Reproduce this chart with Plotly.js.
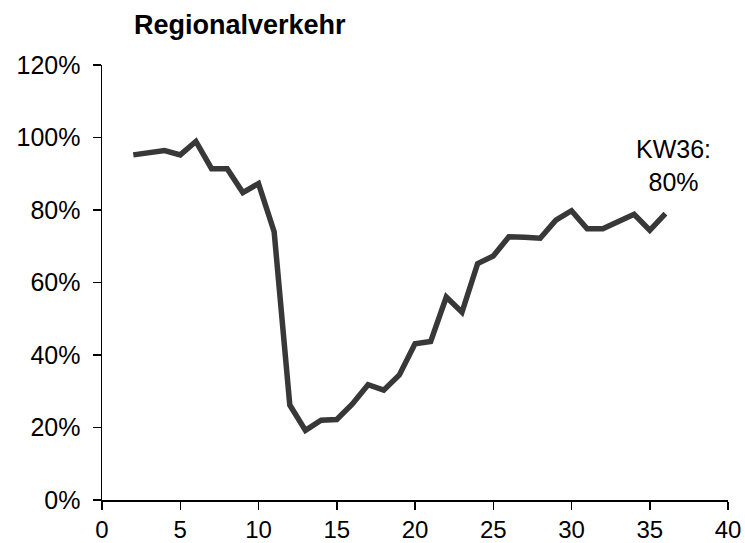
<!DOCTYPE html>
<html>
<head>
<meta charset="utf-8">
<script src="https://cdn.plot.ly/plotly-3.0.1.min.js"></script>
<style>html,body{margin:0;padding:0;background:#fff;}#chart{width:745px;height:543px;}</style>
</head>
<body>
<div id="chart"></div>
<script>
const weeks = [2,3,4,5,6,7,8,9,10,11,12,13,14,15,16,17,18,19,20,21,22,23,24,25,26,27,28,29,30,31,32,33,34,35,36];
const shareOfNormal = [0.952,0.957,0.964,0.952,0.989,0.914,0.914,0.848,0.873,0.740,0.262,0.192,0.220,0.222,0.265,0.318,0.303,0.345,0.431,0.437,0.560,0.518,0.652,0.673,0.726,0.725,0.722,0.772,0.798,0.748,0.748,0.768,0.788,0.744,0.790];
const xTicks = [0,5,10,15,20,25,30,35,40];
const yTicks = [0,0.2,0.4,0.6,0.8,1.0,1.2];
const yTickLabels = ["0%","20%","40%","60%","80%","100%","120%"];
const titleText = "Regionalverkehr";
const noteText = "KW36:<br>80%";

const trace = {
  x: weeks, y: shareOfNormal, type: "scatter", mode: "lines",
  line: {color: "#383838", width: 5.5}, hoverinfo: "skip"
};
const font = {family: "Liberation Sans, Arial, sans-serif", size: 25, color: "#000"};
const layout = {
  width: 745, height: 543,
  margin: {l: 102, r: 17, t: 65, b: 43},
  paper_bgcolor: "#fff", plot_bgcolor: "#fff",
  showlegend: false,
  font: font,
  title: {text: "<b>" + titleText + "</b>", x: 134/745, xanchor: "left", xref: "container", y: 1 - 25/543, yanchor: "middle", yref: "container",
          font: {family: "Liberation Sans, Arial, sans-serif", size: 27, color: "#000"}},
  xaxis: {range: [0, 40], tickvals: xTicks, ticktext: xTicks.map(String), showgrid: false, zeroline: false,
          showline: true, linecolor: "#000", linewidth: 1.5, ticks: "outside", ticklen: 8, tickwidth: 1.5, tickcolor: "#000",
          tickfont: {family: "Liberation Sans, Arial, sans-serif", size: 24, color: "#000"}, automargin: false},
  yaxis: {range: [0, 1.2], tickvals: yTicks, ticktext: yTickLabels, showgrid: false, zeroline: false,
          showline: true, linecolor: "#000", linewidth: 1.5, ticks: "outside", ticklen: 8, tickwidth: 1.5, tickcolor: "#000",
          tickfont: font, automargin: false, ticklabelstandoff: 7},
  annotations: [{x: weeks[weeks.length-1], y: shareOfNormal[shareOfNormal.length-1], xref: "x", yref: "y",
                 text: noteText, showarrow: false, xanchor: "center", yanchor: "middle", xshift: 8, yshift: 48,
                 font: font, align: "center"}]
};
Plotly.newPlot("chart", [trace], layout, {displayModeBar: false, staticPlot: true});
</script>
</body>
</html>
